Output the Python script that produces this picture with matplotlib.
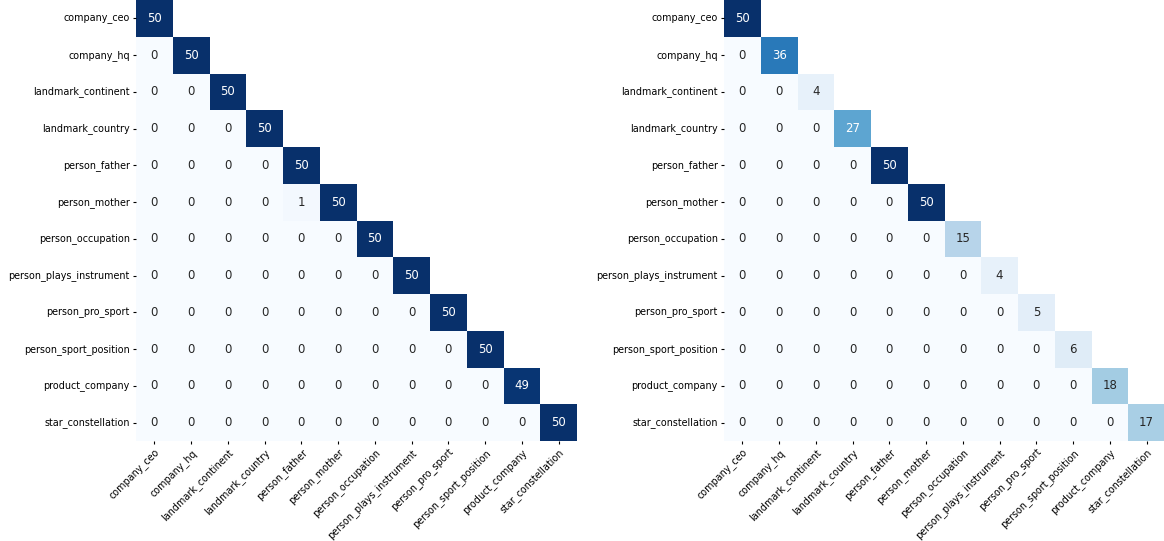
import numpy as np
import matplotlib
matplotlib.use("Agg")
import matplotlib.pyplot as plt
import seaborn as sns

labels = ["company_ceo", "company_hq", "landmark_continent", "landmark_country",
          "person_father", "person_mother", "person_occupation",
          "person_plays_instrument", "person_pro_sport", "person_sport_position",
          "product_company", "star_constellation"]

left_diag = [50, 50, 50, 50, 50, 50, 50, 50, 50, 50, 49, 50]
left_offdiag = {("person_mother", "person_father"): 1}
right_diag = [50, 36, 4, 27, 50, 50, 15, 4, 5, 6, 18, 17]
right_offdiag = {}

def build(diag, off):
    n = len(labels)
    m = np.zeros((n, n))
    for i, v in enumerate(diag):
        m[i, i] = v
    for (r, c), v in off.items():
        m[labels.index(r), labels.index(c)] = v
    return m

mats = [build(left_diag, left_offdiag), build(right_diag, right_offdiag)]
mask = np.triu(np.ones((len(labels), len(labels)), dtype=bool), k=1)

fig = plt.figure(figsize=(11.64, 5.41), dpi=100)
W, H = 1164, 541
boxes = [(136, 0, 441, 441), (724, 0, 441, 441)]
for (x0, y0, w, h), m in zip(boxes, mats):
    ax = fig.add_axes([x0 / W, 1 - (y0 + h) / H, w / W, h / H])
    sns.heatmap(m, mask=mask, annot=True, fmt=".0f", cmap="Blues", vmin=0, vmax=50,
                cbar=False, ax=ax, xticklabels=labels, yticklabels=labels,
                annot_kws={"fontsize": 8.5})
    ax.tick_params(axis="both", labelsize=6.9, length=2.5, width=0.8, pad=2)
    plt.setp(ax.get_xticklabels(), rotation=45, ha="right", rotation_mode="anchor")
    plt.setp(ax.get_yticklabels(), rotation=0)

fig.savefig("out.png", dpi=100)
